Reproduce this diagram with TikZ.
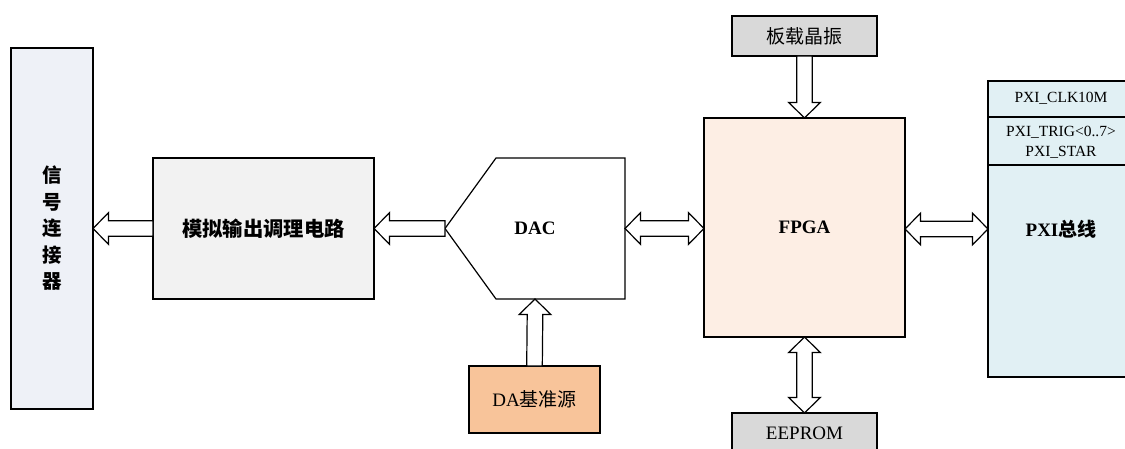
\documentclass[tikz,border=0pt]{standalone}
\usepackage{fontspec}
\setmainfont{Liberation Serif}
\newfontfamily\cjk{Noto Sans CJK SC}
\usetikzlibrary{calc}
\definecolor{connc}{HTML}{EEF1F7}
\definecolor{anac}{HTML}{F2F2F2}
\definecolor{fpgac}{HTML}{FDEEE4}
\definecolor{grayc}{HTML}{D9D9D9}
\definecolor{dacol}{HTML}{F8C49A}
\definecolor{pxic}{HTML}{E1F0F4}
\def\sw{7.8}
\def\hw{15.8}
\def\hl{15.5}
\newcommand\arrL[2]{\draw[blk] (#1) -- ([shift={(\hl,-\hw)}]#1) -- ([shift={(\hl,-\sw)}]#1) -- ([shift={(0,-\sw)}]#2) -- ([shift={(0,\sw)}]#2) -- ([shift={(\hl,\sw)}]#1) -- ([shift={(\hl,\hw)}]#1) -- cycle;}
\newcommand\arrD[2]{\draw[blk] (#1) -- ([shift={(\hw,-\hl)}]#1) -- ([shift={(\sw,-\hl)}]#1) -- ([shift={(\sw,0)}]#2) -- ([shift={(-\sw,0)}]#2) -- ([shift={(-\sw,-\hl)}]#1) -- ([shift={(-\hw,-\hl)}]#1) -- cycle;}
\newcommand\arrU[2]{\draw[blk] (#1) -- ([shift={(\hw,\hl)}]#1) -- ([shift={(\sw,\hl)}]#1) -- ([shift={(\sw,0)}]#2) -- ([shift={(-\sw,0)}]#2) -- ([shift={(-\sw,\hl)}]#1) -- ([shift={(-\hw,\hl)}]#1) -- cycle;}
\newcommand\dblH[2]{\draw[blk] (#1) -- ([shift={(\hl,-\hw)}]#1) -- ([shift={(\hl,-\sw)}]#1) -- ([shift={(-\hl,-\sw)}]#2) -- ([shift={(-\hl,-\hw)}]#2) -- (#2) -- ([shift={(-\hl,\hw)}]#2) -- ([shift={(-\hl,\sw)}]#2) -- ([shift={(\hl,\sw)}]#1) -- ([shift={(\hl,\hw)}]#1) -- cycle;}
\newcommand\dblV[2]{\draw[blk] (#1) -- ([shift={(\hw,\hl)}]#1) -- ([shift={(\sw,\hl)}]#1) -- ([shift={(\sw,-\hl)}]#2) -- ([shift={(\hw,-\hl)}]#2) -- (#2) -- ([shift={(-\hw,-\hl)}]#2) -- ([shift={(-\sw,-\hl)}]#2) -- ([shift={(-\sw,\hl)}]#1) -- ([shift={(-\hw,\hl)}]#1) -- cycle;}
\begin{document}
\begin{tikzpicture}[x=1pt,y=-1pt,line width=1.2pt,
  box/.style={draw, rectangle, inner sep=0pt, outer sep=0pt, font=\fontsize{19}{22}\selectfont},
  blk/.style={draw, fill=white, line width=1.2pt, line join=miter},
  small/.style={inner sep=0pt, font=\fontsize{15.5}{18}\selectfont}]
\useasboundingbox[fill=white] (0,0) rectangle (1125,449);
% boxes
\node[box, fill=connc, minimum width=82, minimum height=361, align=center,
  font=\fontsize{19.5}{26.5}\selectfont\cjk\bfseries] (conn) at (52,228.5) {信\\号\\连\\接\\器};
\node[box, fill=anac, minimum width=221, minimum height=141, font=\fontsize{20.3}{24}\selectfont] (analog) at (263.5,228.5) {\cjk\bfseries 模拟输出调理电路};
\node[box, draw=none, minimum width=180, minimum height=141] (dac) at (535,228.5) {\bfseries DAC};
\draw ([shift={(51,0)}]dac.north west) -- (dac.north east) -- (dac.south east) -- ([shift={(51,0)}]dac.south west) -- (dac.west) -- cycle;
\node[box, fill=fpgac, minimum width=201, minimum height=219] (fpga) at (804.5,227.5) {\bfseries FPGA};
\node[box, fill=grayc, minimum width=145, minimum height=40] (osc) at (804.5,36) {\cjk 板载晶振};
\node[box, fill=grayc, minimum width=145, minimum height=40] (eeprom) at (804.5,433) {EEPROM};
\node[box, fill=dacol, minimum width=131, minimum height=67] (da) at (534.5,399.5) {DA{\cjk 基准源}};
\node[box, fill=pxic, minimum width=146, minimum height=296] (pxi) at (1061,229) {\bfseries PXI{\cjk 总线}};
\draw ([shift={(0,36)}]pxi.north west) -- ([shift={(0,36)}]pxi.north east);
\draw ([shift={(0,84)}]pxi.north west) -- ([shift={(0,84)}]pxi.north east);
\node[small] (clk) at (1061,98) {PXI\_CLK10M};
\node[small] (trig) at (1061,132) {PXI\_TRIG<0..7>};
\node[small] (star) at (1061,152) {PXI\_STAR};
% connectors
\coordinate (fw) at (dac.east -| fpga.west);
\coordinate (fe) at (pxi.west -| fpga.east);
\arrL{conn.east}{analog.west}
\arrL{analog.east}{dac.west}
\dblH{dac.east}{fw}
\dblH{fe}{pxi.west}
\arrD{fpga.north}{osc.south}
\arrU{dac.south}{da.north}
\dblV{fpga.south}{eeprom.north}
\end{tikzpicture}
\end{document}
